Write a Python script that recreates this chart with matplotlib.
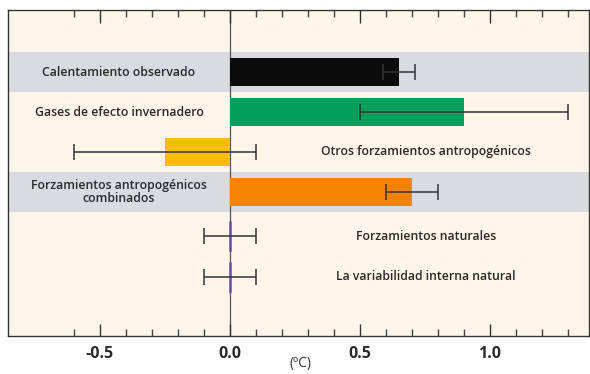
import matplotlib
matplotlib.use("Agg")
import matplotlib.pyplot as plt

# ---- data ----
labels = ["Calentamiento observado",
          "Gases de efecto invernadero",
          "Otros forzamientos antropogénicos",
          "Forzamientos antropogénicos\ncombinados",
          "Forzamientos naturales",
          "La variabilidad interna natural"]
values = [0.65, 0.90, -0.25, 0.70, 0.0, 0.0]
err_low = [0.59, 0.50, -0.60, 0.60, -0.10, -0.10]
err_high = [0.71, 1.30, 0.10, 0.80, 0.10, 0.10]
colors = ["#0b0b0b", "#00a05c", "#fbbd00", "#f58300", "#6a50a8", "#6a50a8"]
label_side = ["left", "left", "right", "left", "right", "right"]
shaded = [True, False, False, True, False, False]
major_ticks = [-0.5, 0.0, 0.5, 1.0]
minor_ticks = [-0.6, -0.4, -0.3, -0.2, -0.1, 0.1, 0.2, 0.3, 0.4,
               0.6, 0.7, 0.8, 0.9, 1.1, 1.2, 1.3]
tick_labels = ["-0.5", "0.0", "0.5", "1.0"]
xlabel = "(ºC)"

# ---- layout ----
ypos = [0, 1, 2, 3, 4.1, 5.125]
plt.rcParams['font.family'] = ['Open Sans', 'DejaVu Sans']

fig = plt.figure(figsize=(5.9, 3.74), dpi=100)
W, H = 590, 374
ax = fig.add_axes([8 / W, 1 - 336 / H, (589 - 8) / W, (336 - 10) / H])
ax.set_facecolor("#fdf6e9")
ax.set_xlim(-0.854, 1.381)
ax.set_ylim(6.6, -1.55)

# gray bands
for y, s in zip(ypos, shaded):
    if s:
        ax.axhspan(y - 0.5, y + 0.5, color="#d9dbe0", zorder=0, lw=0)

# zero line
ax.axvline(0, color="#555555", lw=0.9, zorder=1)

# bars
for y, v, c in zip(ypos, values, colors):
    if v != 0:
        ax.barh(y, v, height=0.7, color=c, zorder=2, lw=0)
    else:
        ax.plot([0, 0], [y - 0.35, y + 0.35], color=c, lw=1.8, zorder=3)

# error bars
for y, v, lo, hi in zip(ypos, values, err_low, err_high):
    ax.errorbar(v, y, xerr=[[v - lo], [hi - v]], fmt="none", ecolor="#333333",
                elinewidth=1.1, capsize=6, capthick=1.1, zorder=4)

# row labels
for y, t, side in zip(ypos, labels, label_side):
    x = -0.427 if side == "left" else 0.755
    ax.text(x, y, t, ha="center", va="center", fontsize=8.8,
            fontweight="semibold", color="#2a2a2a", linespacing=1.05, zorder=5)

# ticks
ax.set_xticks(major_ticks)
ax.set_xticks(minor_ticks, minor=True)
ax.set_xticklabels(tick_labels, fontsize=11.5, fontweight="bold", color="#2a2a2a")
ax.tick_params(axis="x", which="major", direction="in", top=True, bottom=True,
               color="#333333", pad=7, length=9, width=1.0)
ax.tick_params(axis="x", which="minor", direction="in", top=True, bottom=True,
               color="#444444", length=5, width=1.0)
ax.set_yticks([])
for sp in ax.spines.values():
    sp.set_color("#333333")
    sp.set_linewidth(1.0)

fig.text(301 / W, 1 - 364 / H, xlabel, ha="center", va="center",
         fontsize=10, color="#333333")

fig.savefig("out.png", dpi=100, facecolor="white")
